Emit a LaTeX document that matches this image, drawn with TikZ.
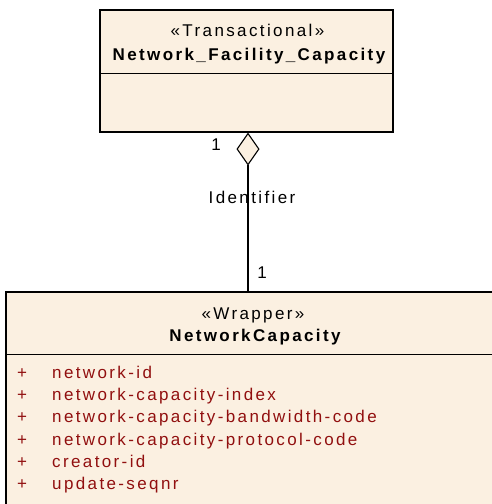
\documentclass[tikz,border=0pt]{standalone}
\usepackage{fontspec}
\setmainfont{Liberation Sans}[LetterSpace=14]
\usetikzlibrary{arrows.meta}
\definecolor{umlfill}{RGB}{251,240,225}
\definecolor{attrred}{RGB}{145,15,15}
\tikzset{
  classbox/.style={draw=black, line width=1.1pt, fill=umlfill, inner sep=0pt},
  divider/.style={draw=black, line width=1.1pt},
  txt/.style={anchor=base, inner sep=0pt, font=\fontsize{17}{20}\selectfont},
  cname/.style={txt, font=\fontsize{17}{20}\selectfont\bfseries},
  attr/.style={txt, anchor=base west, text=attrred},
  assoc/.style={draw=black, line width=1.1pt, -{Diamond[length=33pt,width=23pt,fill=umlfill,line width=1.1pt]}},
}
\begin{document}
\begin{tikzpicture}[x=1pt,y=-1pt]
\useasboundingbox (0,0) rectangle (492,504);
% top class
\node[classbox, minimum width=293pt, minimum height=122pt] (top) at (246.5,71) {};
\draw[divider] ([yshift=-64pt]top.north west) -- ([yshift=-64pt]top.north east);
\node[txt] (topst) at (247.5,36.7) {«Transactional»};
\node[cname] (topname) at (249,60) {Network\_Facility\_Capacity};
% bottom class
\begin{scope}
\clip (0,0) rectangle (492,504);
\node[classbox, minimum width=494pt, minimum height=228pt] (bot) at (253,406) {};
\draw[divider] ([yshift=-63pt]bot.north west) -- ([yshift=-63pt]bot.north east);
\end{scope}
\node[txt] (botst) at (253,319.3) {«Wrapper»};
\node[cname] (botname) at (255,341.5) {NetworkCapacity};
\foreach \i/\name in {0/network-id,1/network-capacity-index,2/network-capacity-bandwidth-code,3/network-capacity-protocol-code,4/creator-id,5/update-seqnr}{
  \node[attr] (p\i) at (17,378.3+22.3*\i) {+};
  \node[attr] (a\i) at (52,378.3+22.3*\i) {\name};
}
% association
\coordinate (c) at (248,0);
\draw[assoc] (bot.north -| c) -- (top.south -| c);
\node[txt] (m1) at (216,150) {1};
\node[txt] (role) at (252,203) {Identifier};
\node[txt] (m2) at (262,278) {1};
\end{tikzpicture}
\end{document}
